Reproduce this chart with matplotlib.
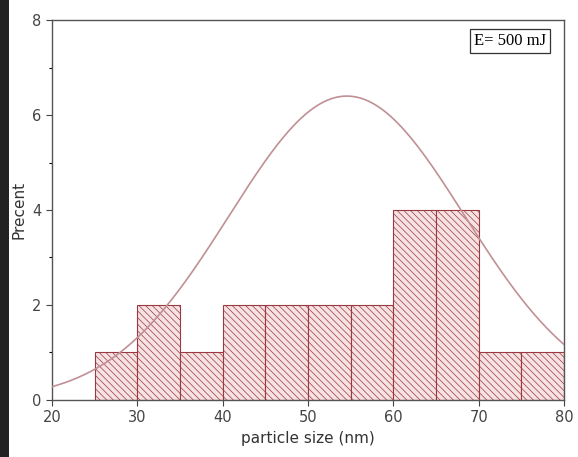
import numpy as np
import matplotlib
matplotlib.use("Agg")
import matplotlib.pyplot as plt
from matplotlib.patches import Rectangle

# histogram bins (nm) and counts
bin_left = [25, 30, 35, 40, 45, 50, 55, 60, 65, 70, 75]
counts = [1, 2, 1, 2, 2, 2, 2, 4, 4, 1, 1]
bin_width = 5
curve_peak = 6.4   # height of the fitted normal curve

# normal fit from the binned data
centres = np.array(bin_left) + bin_width / 2
w = np.array(counts)
mu = np.sum(centres * w) / w.sum()
sigma = np.sqrt(np.sum(w * (centres - mu) ** 2) / w.sum())

plt.rcParams['hatch.linewidth'] = 0.5

fig = plt.figure(figsize=(5.78, 4.57), dpi=100)
ax = fig.add_axes([0.09, 0.125, 0.886, 0.831])

# dark scan edge on the left
fig.patches.append(Rectangle((0, 0), 0.016, 1, transform=fig.transFigure,
                             facecolor='#222222', edgecolor='none'))

ax.bar(bin_left, counts, width=bin_width, align='edge',
       facecolor='#f7e2e3', edgecolor='#9a3a40', hatch='\\\\\\\\\\',
       linewidth=0.8, zorder=2)

xs = np.linspace(20, 80, 400)
ax.plot(xs, curve_peak * np.exp(-(xs - mu) ** 2 / (2 * sigma ** 2)),
        color='#c09095', linewidth=1.2, zorder=3)

ax.set_xlim(20, 80)
ax.set_ylim(0, 8)
ax.set_xticks(range(20, 81, 10))
ax.set_yticks(range(0, 9, 2))
ax.set_yticks(range(1, 8, 2), minor=True)
ax.tick_params(axis='both', direction='out', labelsize=10.5, colors='#444444',
               length=4, width=0.8)
ax.tick_params(axis='y', which='minor', length=2.5, width=0.8)
for s in ax.spines.values():
    s.set_color('#555555')
    s.set_linewidth(1.0)

ax.set_xlabel('particle size (nm)', fontsize=11, color='#333333')
ax.set_ylabel('Precent', fontsize=11, color='#333333')

ax.text(0.965, 0.945, 'E= 500 mJ', transform=ax.transAxes, ha='right', va='center',
        fontsize=12, family='Liberation Serif',
        bbox=dict(boxstyle='square,pad=0.25', facecolor='white', edgecolor='#333333', linewidth=0.9))

fig.savefig('out.png', dpi=100)
